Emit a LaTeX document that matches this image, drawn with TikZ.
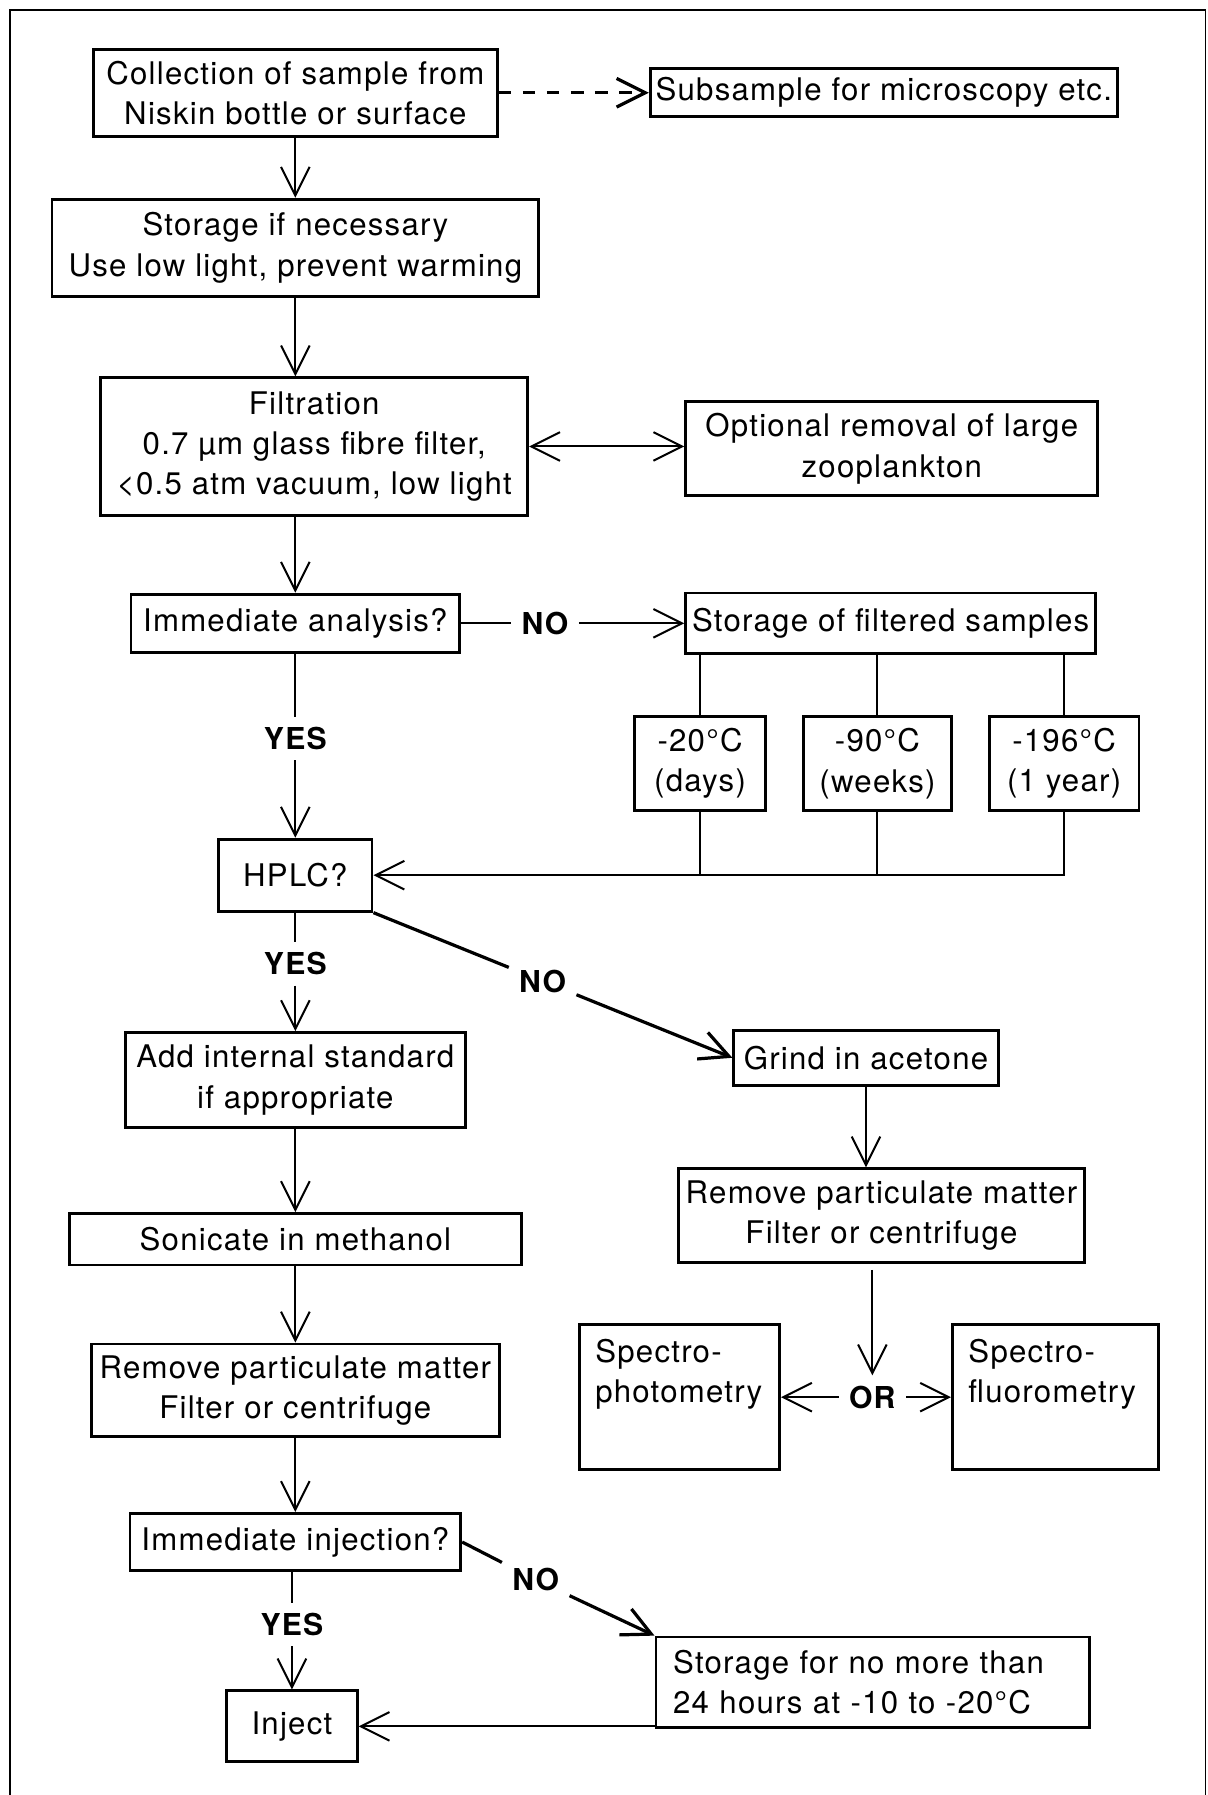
\documentclass[tikz,border=0pt]{standalone}
\usepackage{fontspec}
\setmainfont{TeX Gyre Heros}[LetterSpace=4]
\usetikzlibrary{arrows.meta}

\begin{document}
\begin{tikzpicture}[x=0.2mm,y=-0.2mm,
		font=\fontsize{15.5}{20}\selectfont,
		box/.style={draw,line width=1.4pt,align=center,inner xsep=1pt,inner ysep=1pt},
		lab/.style={font=\fontsize{15}{17}\selectfont\bfseries,inner sep=5pt},
		link/.style={line width=1pt},
		diag/.style={line width=1.6pt},
		>={Straight Barb[length=5mm,width=5mm]}]
		\useasboundingbox (0,0) rectangle (1055,1568);
		\draw[line width=0.8pt] (9,1568) -- (9,9) -- (1053,9) -- (1053,1568);

		\node[box,minimum width=70.6mm,minimum height=15.2mm] (coll) at (258,81) {Collection of sample from\\Niskin bottle or surface};
		\node[box,minimum width=81.6mm,minimum height=8.4mm] (subs) at (772,81) {Subsample for microscopy etc.};
		\node[box,minimum width=85mm,minimum height=17mm] (stor) at (258,216.5) {Storage if necessary\\Use low light, prevent warming};
		\node[box,minimum width=74.6mm,minimum height=24mm] (filt) at (274.5,390) {Filtration\\0.7 µm glass fibre filter,\\<0.5 atm vacuum, low light};
		\node[box,minimum width=72mm,minimum height=16.4mm] (zoo) at (779,392) {Optional removal of large\\zooplankton};
		\node[box,minimum width=57.4mm,minimum height=10.2mm] (anal) at (258,544.5) {Immediate analysis?};
		\node[box,minimum width=71.6mm,minimum height=10.6mm] (kept) at (778,544.5) {Storage of filtered samples};
		\node[box,minimum width=23mm,minimum height=16.4mm] (cold) at (611.5,667) {-20°C\\(days)};
		\node[box,minimum width=25.8mm,minimum height=16.4mm] (colder) at (766.5,667) {-90°C\\(weeks)};
		\node[box,minimum width=26.2mm,minimum height=16.4mm] (coldest) at (929.5,667) {-196°C\\(1 year)};
		\node[box,minimum width=26.8mm,minimum height=12.6mm] (hplc) at (258,764.5) {HPLC?};
		\node[box,minimum width=59.4mm,minimum height=16.6mm] (std) at (258,943.5) {Add internal standard\\if appropriate};
		\node[box,minimum width=79mm,minimum height=9mm] (soni) at (258,1082.5) {Sonicate in methanol};
		\node[box,minimum width=71.2mm,minimum height=16.2mm] (remL) at (258,1214.5) {Remove particulate matter\\Filter or centrifuge};
		\node[box,minimum width=57.8mm,minimum height=10mm] (inj) at (258,1347) {Immediate injection?};
		\node[box,minimum width=22.8mm,minimum height=12.4mm] (inject) at (255,1508) {Inject};
		\node[box,minimum width=75.8mm,minimum height=15.8mm,align=left,text width=69.8mm] (hold) at (762.5,1469.5) {Storage for no more than\\24 hours at -10 to -20°C};
		\node[box,minimum width=46.2mm,minimum height=9.6mm] (grind) at (756.5,924) {Grind in acetone};
		\node[box,minimum width=70.8mm,minimum height=16.4mm] (remR) at (770,1062) {Remove particulate matter\\Filter or centrifuge};
		\node[box,minimum width=35mm,minimum height=25.4mm,align=left,text width=29.4mm] (photo) at (593.5,1220.5) {Spectro-\\photometry\\\strut};
		\node[box,minimum width=36mm,minimum height=25.4mm,align=left,text width=30.4mm] (fluo) at (922,1220.5) {Spectro-\\fluorometry\\\strut};

		\node[lab] (yes1) at (258,645) {YES};
		\node[lab] (no1) at (476,544.5) {NO};
		\node[lab] (yes2) at (258,842) {YES};
		\node[lab] (no2) at (474,857) {NO};
		\node[lab] (or) at (762,1220.5) {OR};
		\node[lab] (yes3) at (255,1419) {YES};
		\node[lab] (no3) at (468,1380) {NO};

		\draw[diag,->,dash pattern=on 2.2mm off 2mm] (coll) -- (subs);
		\draw[link,->] (coll) -- (stor);
		\draw[link,->] (stor) -- (stor |- filt.north);
		\draw[link,->] (stor |- filt.south) -- (anal);
		\draw[link,<->] (filt.east) -- (filt.east -| zoo.west);
		\draw[link] (anal) -- (no1);
		\draw[link,->] (no1) -- (kept);
		\draw[link] (cold |- kept.south) -- (cold);
		\draw[link] (colder |- kept.south) -- (colder);
		\draw[link] (coldest |- kept.south) -- (coldest);
		\draw[link] (cold) -- (cold |- hplc);
		\draw[link] (colder) -- (colder |- hplc);
		\draw[link,->] (coldest) -- (coldest |- hplc) -- (hplc);
		\draw[link] (anal) -- (yes1);
		\draw[link,->] (yes1) -- (hplc);
		\draw[link] (hplc) -- (yes2);
		\draw[link,->] (yes2) -- (std);
		\draw[diag] (hplc.south east) -- (no2);
		\draw[diag,->] (no2) -- (grind.west);
		\draw[link,->] (std) -- (soni);
		\draw[link,->] (soni) -- (remL);
		\draw[link,->] (remL) -- (inj);
		\draw[link] (yes3 |- inj.south) -- (yes3);
		\draw[link,->] (yes3) -- (inject);
		\draw[diag] (inj.east) -- (no3);
		\draw[diag,->] (no3) -- (hold.north west);
		\draw[link,->] (inject -| hold.west) -- (inject);
		\draw[link,->] (grind) -- (grind |- remR.north);
		\draw[link,->,shorten <=1mm] (or |- remR.south) -- (or);
		\draw[link,->] (or) -- (or -| photo.east);
		\draw[link,->] (or) -- (or -| fluo.west);
\end{tikzpicture}
\end{document}
